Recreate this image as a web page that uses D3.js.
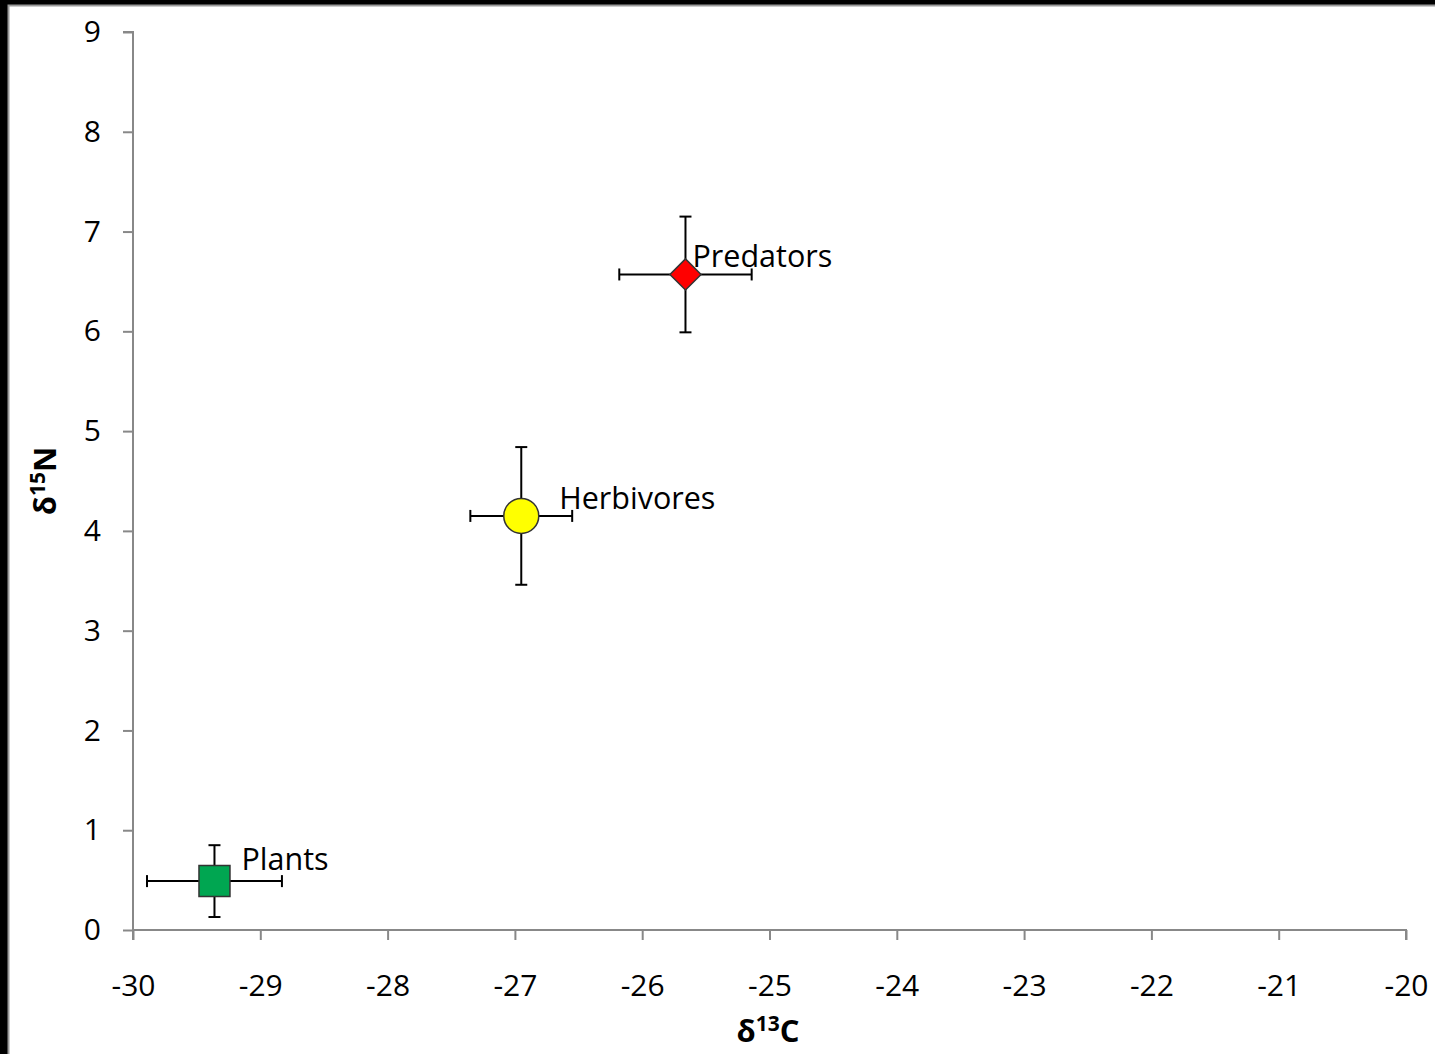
<!DOCTYPE html>
<html>
<head>
<meta charset="utf-8">
<script src="https://cdn.jsdelivr.net/npm/d3@7"></script>
<style>
  html, body { margin: 0; padding: 0; background: #000; }
  svg { display: block; }
  text { font-family: "Open Sans", "Noto Sans", sans-serif; }
</style>
</head>
<body>
<svg id="chart" width="1435" height="1054"></svg>
<script>
// Trophic groups: mean δ13C / δ15N with ± standard deviations
const groups   = ["Plants", "Herbivores", "Predators"];
const carbon   = [-29.36, -26.95, -25.66];
const nitrogen = [0.49, 4.15, 6.57];
const carbonSd = [0.53, 0.40, 0.52];
const nitrogenSd = [0.36, 0.69, 0.58];
const markers  = ["square", "circle", "diamond"];
const fills    = ["#00a651", "#ffff00", "#ff0000"];

const xTicks = [-30, -29, -28, -27, -26, -25, -24, -23, -22, -21, -20];
const yTicks = [0, 1, 2, 3, 4, 5, 6, 7, 8, 9];

// label offsets (px) from each marker centre
const labelDx = [27, 38, 7];
const labelDy = [-23, -19, -19];

const W = 1435, H = 1054;
const svg = d3.select("#chart");

// outer frame
svg.append("rect").attr("x", 0).attr("y", 0).attr("width", W).attr("height", H).attr("fill", "#000");
svg.append("rect").attr("x", 8.5).attr("y", 5.5).attr("width", W + 10).attr("height", H + 10)
  .attr("fill", "#fff").attr("stroke", "#9a9a9a").attr("stroke-width", 2);

const x = d3.scaleLinear().domain([-30, -20]).range([133, 1406]);
const y = d3.scaleLinear().domain([0, 9]).range([930, 32]);

const axisColor = "#888";
const tickFont = 30;

// y axis
const gy = svg.append("g").attr("transform", "translate(133,0)")
  .call(d3.axisLeft(y).tickValues(yTicks).tickSize(10).tickPadding(22).tickFormat(d3.format("d")));
// x axis
const gx = svg.append("g").attr("transform", "translate(0,930)")
  .call(d3.axisBottom(x).tickValues(xTicks).tickSize(10).tickPadding(35).tickFormat(d => d3.format("d")(d).replace("−", "-")));

[gx, gy].forEach(g => {
  g.select(".domain").attr("stroke", axisColor).attr("stroke-width", 2);
  g.selectAll(".tick line").attr("stroke", axisColor).attr("stroke-width", 2);
  g.selectAll(".tick text").attr("fill", "#000").attr("font-size", tickFont)
    .attr("font-family", "'Open Sans', 'Noto Sans', sans-serif");
});
gy.select(".domain").attr("d", `M-10,${y(9)}H0V${y(0)}`);
gx.select(".domain").attr("d", `M${x(-30)},10V0H${x(-20)}V10`);

// axis titles
svg.append("text").attr("x", 768).attr("y", 1042).attr("text-anchor", "middle")
  .attr("font-size", 31).attr("font-weight", "bold").attr("fill", "#000")
  .html('δ<tspan font-size="21" dy="-11">13</tspan><tspan dy="11">C</tspan>');
svg.append("text").attr("transform", "translate(56,481) rotate(-90)").attr("text-anchor", "middle")
  .attr("font-size", 31).attr("font-weight", "bold").attr("fill", "#000")
  .html('δ<tspan font-size="21" dy="-11">15</tspan><tspan dy="11">N</tspan>');

const data = groups.map((g, i) => ({
  name: g, cx: carbon[i], cy: nitrogen[i], sx: carbonSd[i], sy: nitrogenSd[i],
  marker: markers[i], fill: fills[i], dx: labelDx[i], dy: labelDy[i]
}));

const pts = svg.append("g").selectAll("g").data(data).join("g");
const cap = 6;
// error bars
pts.each(function(d) {
  const g = d3.select(this);
  const px = x(d.cx), py = y(d.cy);
  const bars = [
    [x(d.cx - d.sx), py, x(d.cx + d.sx), py],
    [px, y(d.cy + d.sy), px, y(d.cy - d.sy)],
    [x(d.cx - d.sx), py - cap, x(d.cx - d.sx), py + cap],
    [x(d.cx + d.sx), py - cap, x(d.cx + d.sx), py + cap],
    [px - cap, y(d.cy + d.sy), px + cap, y(d.cy + d.sy)],
    [px - cap, y(d.cy - d.sy), px + cap, y(d.cy - d.sy)]
  ];
  g.selectAll("line").data(bars).join("line")
    .attr("x1", b => b[0]).attr("y1", b => b[1]).attr("x2", b => b[2]).attr("y2", b => b[3])
    .attr("stroke", "#000").attr("stroke-width", 2);
});

// markers
const symbolFor = { square: d3.symbolSquare, circle: d3.symbolCircle, diamond: d3.symbolSquare };
const sizeFor = { square: 31 * 31, circle: Math.PI * 17.5 * 17.5, diamond: 22 * 22 };
pts.append("path")
  .attr("d", d => d3.symbol(symbolFor[d.marker], sizeFor[d.marker])())
  .attr("transform", d => `translate(${x(d.cx)},${y(d.cy)})` + (d.marker === "diamond" ? " rotate(45)" : ""))
  .attr("fill", d => d.fill).attr("stroke", "#333").attr("stroke-width", 1.5);

// labels
pts.append("text")
  .attr("x", d => x(d.cx) + d.dx).attr("y", d => y(d.cy) + d.dy)
  .attr("dominant-baseline", "central")
  .attr("font-size", 30.5).attr("fill", "#000")
  .text(d => d.name);
</script>
</body>
</html>
